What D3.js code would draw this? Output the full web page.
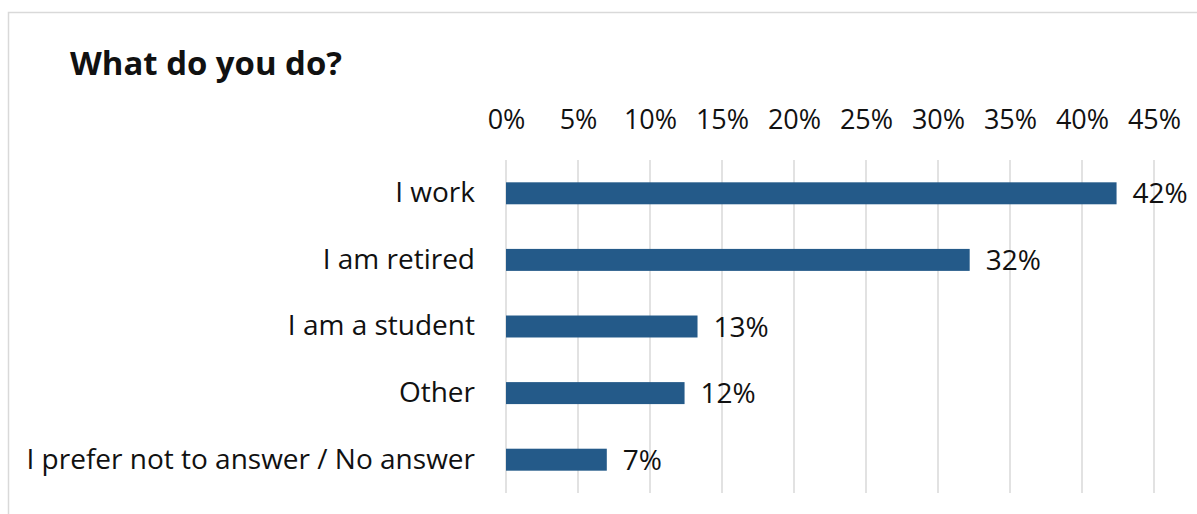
<!DOCTYPE html>
<html>
<head>
<meta charset="utf-8">
<script src="https://cdn.jsdelivr.net/npm/d3@7"></script>
<style>
  html, body { margin: 0; padding: 0; background: #fff; }
  svg { display: block; }
  text { font-family: "Open Sans", "Liberation Sans", sans-serif; fill: #111; }
</style>
</head>
<body>
<svg id="chart" width="1197" height="514"></svg>
<script>
const title = "What do you do?";
const categories = ["I work", "I am retired", "I am a student", "Other", "I prefer not to answer / No answer"];
const values = [0.424, 0.322, 0.133, 0.124, 0.07];
const valueLabels = ["42%", "32%", "13%", "12%", "7%"];
const tickValues = [0, 0.05, 0.10, 0.15, 0.20, 0.25, 0.30, 0.35, 0.40, 0.45];
const tickLabels = ["0%", "5%", "10%", "15%", "20%", "25%", "30%", "35%", "40%", "45%"];

const svg = d3.select("#chart");

// chart frame
svg.append("rect")
  .attr("x", 8.5).attr("y", 12.5)
  .attr("width", 1250).attr("height", 600)
  .attr("fill", "#fff").attr("stroke", "#d9d9d9").attr("stroke-width", 1.5);

// title
svg.append("text")
  .attr("x", 70).attr("y", 75)
  .attr("font-size", 32).attr("font-weight", 700)
  .attr("textLength", 272).attr("lengthAdjust", "spacingAndGlyphs")
  .text(title);

const x = d3.scaleLinear().domain([0, 0.45]).range([506, 1154]);
const y = d3.scaleBand().domain(categories).range([160, 493])
  .paddingInner(0.67).paddingOuter(0.335);

// gridlines
svg.append("g").selectAll("line").data(tickValues).join("line")
  .attr("x1", d => x(d)).attr("x2", d => x(d))
  .attr("y1", 160).attr("y2", 493)
  .attr("stroke", "#d9d9d9").attr("stroke-width", 1.5);

// top axis (tick labels)
const xAxis = d3.axisTop(x).tickValues(tickValues)
  .tickFormat((d, i) => tickLabels[i]).tickSize(0).tickPadding(0);
const gx = svg.append("g").attr("transform", "translate(0,129)").call(xAxis);
gx.select(".domain").remove();
gx.selectAll("text").attr("font-size", 27).attr("font-family", "'Open Sans', sans-serif").attr("fill", "#111").attr("dy", 0);

// left axis (category labels)
const yAxis = d3.axisLeft(y).tickSize(0).tickPadding(31);
const gy = svg.append("g").attr("transform", "translate(506,0)").call(yAxis);
gy.select(".domain").remove();
gy.selectAll("text").attr("font-size", 28).attr("font-family", "'Open Sans', sans-serif").attr("fill", "#111");

// bars
svg.append("g").selectAll("rect").data(categories).join("rect")
  .attr("x", x(0))
  .attr("y", d => y(d))
  .attr("width", (d, i) => x(values[i]) - x(0))
  .attr("height", y.bandwidth())
  .attr("fill", "#245A89");

// value labels
svg.append("g").selectAll("text").data(categories).join("text")
  .attr("x", (d, i) => x(values[i]) + 16)
  .attr("y", d => y(d) + y.bandwidth() / 2)
  .attr("dy", "0.36em")
  .attr("font-size", 28)
  .text((d, i) => valueLabels[i]);
</script>
</body>
</html>
